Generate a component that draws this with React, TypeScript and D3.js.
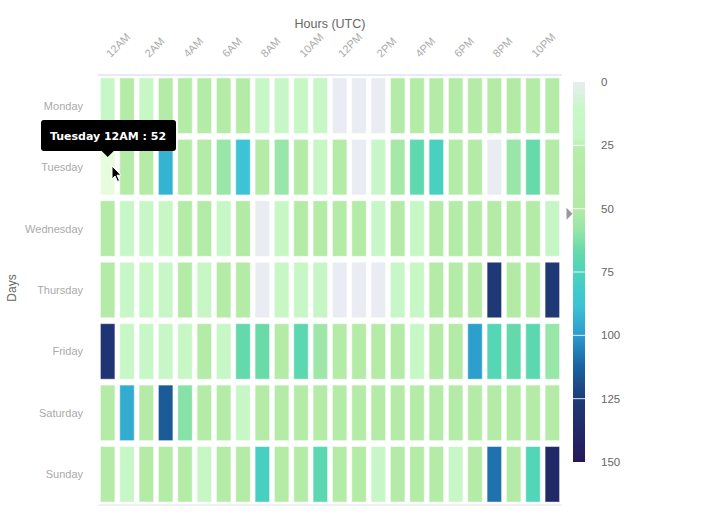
import React from "react";
import * as d3 from "d3";

const days = ["Monday", "Tuesday", "Wednesday", "Thursday", "Friday", "Saturday", "Sunday"];
const hours = ["12AM","1AM","2AM","3AM","4AM","5AM","6AM","7AM","8AM","9AM","10AM","11AM","12PM","1PM","2PM","3PM","4PM","5PM","6PM","7PM","8PM","9PM","10PM","11PM"];
const hourTicks = ["12AM","2AM","4AM","6AM","8AM","10AM","12PM","2PM","4PM","6PM","8PM","10PM"];

const monday =    [15,35,18,38,40,42,36,41,16,14,19,17,0,0,0,39,44,37,42,40,38,45,41,36];
const tuesday =   [52,40,38,93,36,42,58,88,41,58,39,18,44,0,16,54,69,77,37,41,0,58,67,39];
const wednesday = [40,17,15,18,43,38,16,45,0,19,37,42,41,39,14,40,17,38,44,36,42,39,41,20];
const thursday =  [41,16,19,14,42,17,38,44,0,18,15,20,0,0,0,16,18,37,40,43,127,46,39,127];
const friday =    [130,18,16,15,19,40,17,68,66,42,70,56,39,41,38,43,17,40,45,99,72,68,70,58];
const saturday =  [38,95,40,115,61,41,36,18,43,40,37,39,42,38,41,40,37,43,39,41,44,38,40,42];
const sunday =    [40,16,38,41,39,15,42,40,78,37,43,70,41,38,17,44,39,42,16,40,109,41,73,138];
const series = [monday, tuesday, wednesday, thursday, friday, saturday, sunday];

const legendTicks = [0, 25, 50, 75, 100, 125, 150];
const colorStops = [0, 10, 22, 27, 50, 58, 66, 75, 88, 100, 112, 125, 150];
const colorValues = ["#e9ecf3", "#c8f8c8", "#c6f6c4", "#b5eca8", "#b3eaa6", "#98e6a8", "#6adba8", "#4ad4bc", "#3cc3d6", "#2c9ccc", "#1a64a2", "#1e3b78", "#25185a"];

const hovered = { day: "Tuesday", hour: "12AM", value: 52 };

export default function App() {
  const W = 705, H = 531;
  const left = 98, right = 562, top = 75, bottom = 505;
  const x = d3.scaleBand<string>().domain(hours).range([left, right]).paddingInner(0.2).paddingOuter(0.1);
  const y = d3.scaleBand<string>().domain(days).range([top, bottom]).paddingInner(0.08).paddingOuter(0.04);
  const color = d3.scaleLinear<string>().domain(colorStops).range(colorValues).interpolate(d3.interpolateRgb).clamp(true);
  const legendY = d3.scaleLinear().domain([0, 150]).range([82, 462]);
  const legX = 573, legW = 12;

  const cells: any[] = [];
  series.forEach((row, i) => row.forEach((v, j) => cells.push({ day: days[i], hour: hours[j], v })));

  const gradStops = d3.range(0, 151, 2).map((v) => ({ off: v / 150, c: color(v) }));
  const font = "'Liberation Sans', Arial, sans-serif";
  const tipX = x(hovered.hour)! + x.bandwidth() / 2;

  return (
    <svg width={W} height={H} style={{ position: "absolute", left: 0, top: 0, background: "#fff" }} fontFamily={font}>
      <defs>
        <linearGradient id="leg" x1="0" y1="0" x2="0" y2="1">
          {gradStops.map((s, i) => <stop key={i} offset={s.off} stopColor={s.c} />)}
        </linearGradient>
      </defs>
      <text x={(left + right) / 2} y={28} textAnchor="middle" fontSize={12.5} fill="#666">Hours (UTC)</text>
      <text transform={`translate(16,288) rotate(-90)`} textAnchor="middle" fontSize={12} fill="#666">Days</text>
      {hourTicks.map((h) => {
        const cx = x(h)! + x.bandwidth() / 2 + 3;
        return (
          <text key={h} transform={`translate(${cx},58) rotate(-45)`} fontSize={11} fill="#aaa">{h}</text>
        );
      })}
      {days.map((d) => (
        <text key={d} x={83} y={y(d)! + y.bandwidth() / 2 + 4} textAnchor="end" fontSize={11} fill="#aaa">{d}</text>
      ))}
      <line x1={left} x2={right} y1={top} y2={top} stroke="#ccd6eb" />
      <line x1={left} x2={right} y1={bottom} y2={bottom} stroke="#e0e0e0" />
      {cells.map((c, i) => {
        const isHover = c.day === hovered.day && c.hour === hovered.hour;
        const fill = isHover ? "#e6fcdd" : color(c.v);
        return (
          <rect key={i} x={x(c.hour)! + 0.5} y={y(c.day)! + 0.5} width={x.bandwidth() - 1} height={y.bandwidth() - 1}
            fill={fill} stroke="rgba(255,255,255,0.45)" strokeWidth={1} />
        );
      })}
      <rect x={legX} y={legendY(0)} width={legW} height={legendY(150) - legendY(0)} fill="url(#leg)" />
      {legendTicks.slice(1, -1).map((t) => (
        <line key={t} x1={legX} x2={legX + legW} y1={legendY(t)} y2={legendY(t)} stroke="#fff" strokeOpacity={0.85} />
      ))}
      {legendTicks.map((t) => (
        <text key={t} x={601} y={legendY(t) + 4} fontSize={11.5} fill="#666">{t}</text>
      ))}
      <path d={`M${legX - 0.5},${legendY(hovered.value)} l-6,-6 l0,12 z`} fill="#999" />
      <g>
        <rect x={41} y={120} width={135} height={31} rx={3} fill="#000" />
        <path d={`M${tipX - 6},151 L${tipX},157 L${tipX + 6},151 z`} fill="#000" />
        <text x={108} y={140} textAnchor="middle" fontSize={11} fontWeight="bold" fill="#fff" fontFamily="'DejaVu Sans', sans-serif">
          {`${hovered.day} ${hovered.hour} : ${hovered.value}`}
        </text>
      </g>
      <path d="M112,166 L112,179 L115,176 L117.5,181.5 L119.5,180.5 L117,175.2 L121,175.2 Z" fill="#000" stroke="#fff" strokeWidth={1} />
    </svg>
  );
}
